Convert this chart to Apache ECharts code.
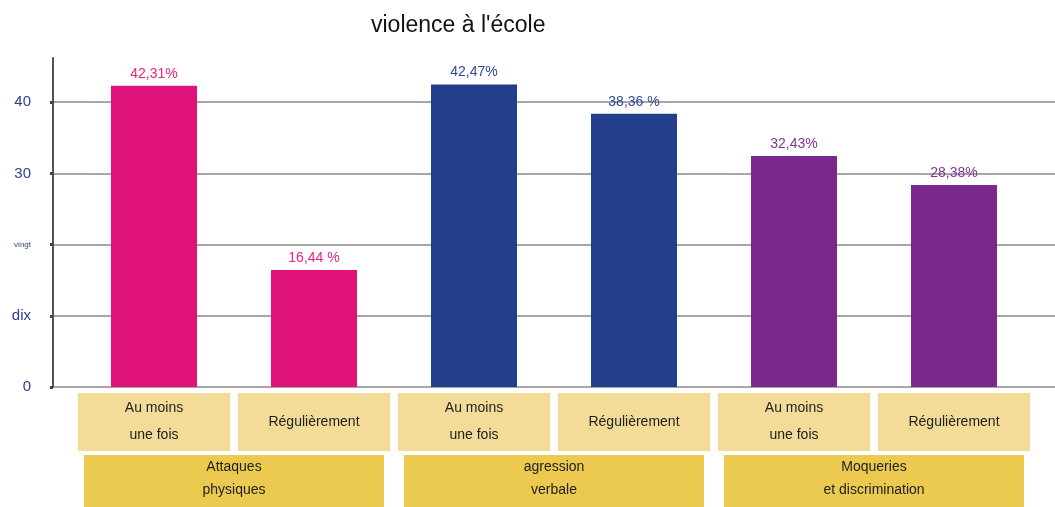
<!DOCTYPE html>
<html>
<head>
<meta charset="utf-8">
<script src="https://cdn.jsdelivr.net/npm/echarts@6/dist/echarts.min.js"></script>
<style>
  html, body { margin: 0; padding: 0; background: #fff; }
  #chart { width: 1055px; height: 507px; }
</style>
</head>
<body>
<div id="chart"></div>
<script>
// Chart content
const chartTitle = "violence à l'école";
const groups = ['Attaques\nphysiques', 'agression\nverbale', 'Moqueries\net discrimination'];
const frequencies = ['Au moins\nune fois', 'Régulièrement', 'Au moins\nune fois', 'Régulièrement', 'Au moins\nune fois', 'Régulièrement'];
const values = [42.31, 16.44, 42.47, 38.36, 32.43, 28.38];
const percentGap = ['', ' ', '', ' ', '', ''];
const yTickValues = [0, 10, 20, 30, 40];
const yTickNames = ['0', 'dix', 'vingt', '30', '40'];

// One colour per group
const barColors = ['#E0137A', '#233F8B', '#7A288C'];
const labelColors = ['#E8237F', '#2E4A98', '#7E3596'];

const Y_MAX = 46.2;

const barData = values.map((v, i) => {
  const g = Math.floor(i / 2);
  return {
    value: v,
    itemStyle: { color: barColors[g] },
    label: { color: labelColors[g] }
  };
});

const chart = echarts.init(document.getElementById('chart'));
chart.setOption({
  animation: false,
  backgroundColor: '#ffffff',
  textStyle: { fontFamily: 'Liberation Sans, Arial, sans-serif' },
  title: {
    text: chartTitle,
    left: 366,
    top: 9,
    textStyle: { fontSize: 23, fontWeight: 'normal', color: '#111' }
  },
  grid: [
    { left: 53, right: 0, top: 58, bottom: 120, outerBoundsMode: 'none' },
    { left: 74, right: 21, top: 58, bottom: 120, outerBoundsMode: 'none' }
  ],
  xAxis: [
    { gridIndex: 0, type: 'value', show: false, min: 0, max: 1 },
    {
      gridIndex: 1, type: 'category', data: frequencies, position: 'bottom',
      axisLine: { show: false }, axisTick: { show: false },
      axisLabel: {
        interval: 0, margin: 6,
        backgroundColor: '#F3DC98', width: 152, padding: [2, 0, 2, 0],
        formatter: (t) => t.indexOf('\n') >= 0
          ? t.split('\n').map(s => '{s|' + s + '}').join('\n')
          : '{r|' + t + '}',
        rich: {
          s: { fontSize: 14, lineHeight: 27, color: '#222' },
          r: { fontSize: 14, lineHeight: 54, color: '#222' }
        }
      }
    },
    {
      gridIndex: 1, type: 'category', data: groups, position: 'bottom',
      axisLine: { show: false }, axisTick: { show: false },
      axisLabel: {
        interval: 0, margin: 68,
        backgroundColor: '#ECC94F', width: 300, padding: [1, 0, 10, 0],
        fontSize: 14, lineHeight: 23, color: '#222'
      }
    }
  ],
  yAxis: [
    {
      gridIndex: 0, type: 'value', min: 0, max: Y_MAX, interval: 10,
      axisLine: { show: true, lineStyle: { color: '#555', width: 2 } },
      axisTick: { show: true, length: 3, lineStyle: { color: '#444', width: 3 } },
      axisLabel: {
        margin: 22, color: '#2B3F8A', fontSize: 15, showMaxLabel: false,
        formatter: (v) => {
          const i = yTickValues.indexOf(v);
          if (i < 0) return '';
          return yTickNames[i] === 'vingt' ? '{small|vingt}' : yTickNames[i];
        },
        rich: { small: { fontSize: 8, color: '#2B3F8A' } }
      },
      splitLine: { show: true, showMaxLine: false, lineStyle: { color: '#8a8a8a', width: 1.5 } }
    },
    { gridIndex: 1, type: 'value', min: 0, max: Y_MAX, show: false, splitLine: { show: false } }
  ],
  series: [
    {
      type: 'bar',
      xAxisIndex: 1,
      yAxisIndex: 1,
      barWidth: 86,
      data: barData,
      label: {
        show: true,
        position: 'top',
        distance: 5,
        fontSize: 14,
        formatter: (p) => p.value.toFixed(2).replace('.', ',') + percentGap[p.dataIndex] + '%'
      }
    }
  ]
});
</script>
</body>
</html>
